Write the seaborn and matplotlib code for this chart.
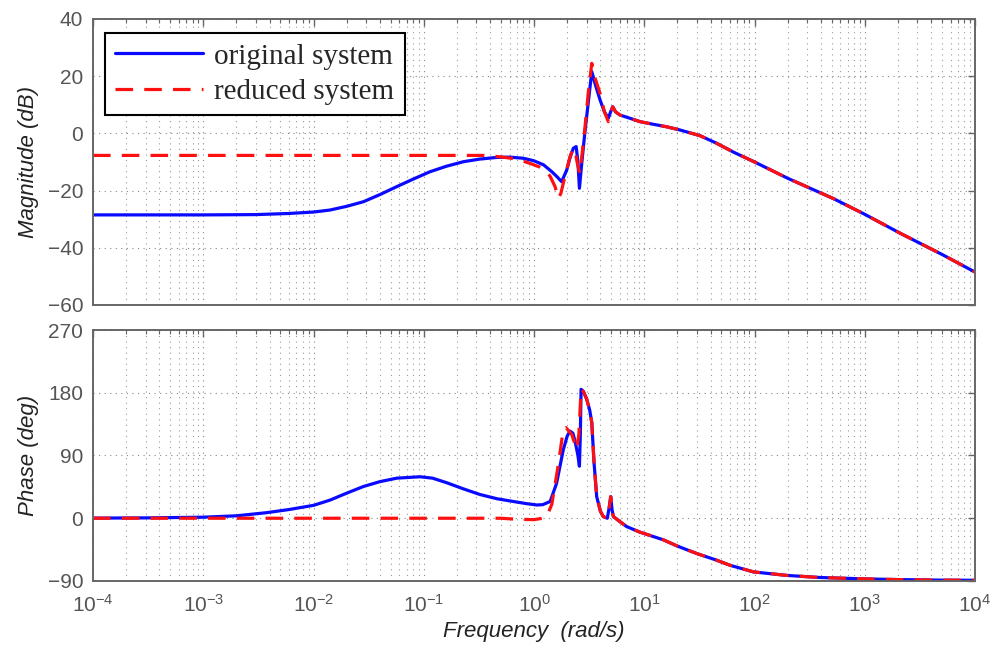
import numpy as np
import pandas as pd
import matplotlib
matplotlib.use("Agg")
import matplotlib.pyplot as plt
import seaborn as sns
from matplotlib.ticker import LogLocator, FixedLocator

# ---------------- data ----------------
mag_orig_f = [1e-4, 1e-3, 3e-3, 6e-3, 0.01, 0.0141, 0.02, 0.0283, 0.04, 0.057, 0.08, 0.114,
              0.16, 0.229, 0.32, 0.46, 0.6, 0.8, 1.0, 1.22, 1.45, 1.62, 1.78, 1.98, 2.12,
              2.27, 2.41, 2.5, 2.58, 2.71, 2.85, 3.0, 3.15, 3.34, 3.6, 3.97, 4.35, 4.72,
              5.0, 5.17, 5.5, 6.03, 7.0, 9.15, 12, 16, 21, 32, 45, 64, 100, 200, 519,
              1000, 2090, 5000, 1e4]
mag_orig_db = [-28.5, -28.5, -28.4, -28.0, -27.5, -26.8, -25.5, -23.9, -21.4, -18.6, -16.0, -13.4,
               -11.5, -9.9, -9.0, -8.4, -8.3, -8.7, -9.6, -11.0, -13.4, -15.2, -16.9, -12.8, -8.5,
               -5.2, -4.6, -10.0, -19.2, -10.4, -2.0, 5.8, 13.0, 21.6, 17.0, 11.7, 7.5, 5.3,
               8.0, 9.3, 7.5, 6.4, 5.6, 4.1, 3.2, 2.3, 1.2, -0.8, -3.4, -6.5, -10.0, -15.7, -22.8,
               -28.3, -34.9, -42.3, -48.5]

mag_red_f = [1e-4, 1e-3, 0.01, 0.1, 0.37, 0.52, 0.7, 0.92, 1.13, 1.26, 1.4, 1.55, 1.66,
             1.75, 1.84, 2.0, 2.12, 2.27, 2.38, 2.47, 2.6, 2.75, 2.9, 3.1, 3.34, 3.6,
             3.97, 4.35, 4.72, 5.0, 5.17, 5.5, 6.03, 7.0, 9.15, 12, 16, 21, 32, 45, 64,
             100, 200, 519, 1000, 2090, 5000, 1e4]
mag_red_db = [-7.7, -7.7, -7.7, -7.7, -7.7, -8.3, -9.0, -10.5, -11.8, -12.8, -15.0, -18.6, -22.7,
              -21.0, -17.5, -12.0, -8.1, -5.2, -7.0, -10.5, -14.0, -6.0, 2.3, 14.0, 24.5, 19.0,
              14.0, 7.5, 4.1, 7.5, 9.3, 7.5, 6.4, 5.6, 4.1, 3.2, 2.3, 1.2, -0.8, -3.4, -6.5,
              -10.0, -15.7, -22.8, -28.3, -34.9, -42.3, -48.5]

ph_orig_f = [1e-4, 3e-4, 1e-3, 2e-3, 3.76e-3, 6e-3, 0.01, 0.0141, 0.02, 0.0283, 0.04, 0.057,
             0.0925, 0.12, 0.161, 0.23, 0.324, 0.46, 0.65, 0.85, 1.06, 1.2, 1.4, 1.6, 1.84,
             2.0, 2.12, 2.25, 2.36, 2.5, 2.58, 2.63, 2.67, 2.8, 3.0, 3.2, 3.34, 3.5, 3.7,
             4.0, 4.25, 4.62, 4.8, 4.96, 5.1, 5.25, 6.03, 6.92, 9.15, 14.9, 20, 29.9, 45,
             60, 98, 196, 392, 1000, 2000, 5000, 1e4]
ph_orig_deg = [0.2, 0.5, 1.5, 3.5, 8.0, 12.5, 18.5, 26.0, 36.0, 45.5, 52.5, 57.5,
               59.5, 57.5, 51.0, 42.0, 34.0, 28.0, 24.0, 21.0, 19.0, 19.5, 24.0, 50.0, 98.0,
               118.0, 125.0, 122.0, 110.0, 90.0, 74.6, 120.0, 185.0, 182.0, 171.0, 155.0, 137.0, 80.0, 31.0,
               10.0, 2.3, 0.0, 15.0, 31.0, 12.0, 2.3, -5.0, -12.0, -20.0, -31.0, -40.0, -50.6, -60.0,
               -67.5, -77.0, -82.0, -85.0, -87.0, -88.0, -88.8, -89.0]

ph_red_f = [1e-4, 1e-3, 0.01, 0.1, 0.5, 0.7, 1.0, 1.2, 1.3, 1.45, 1.66, 1.84, 1.95,
            2.2, 2.43, 2.55, 2.67, 2.8, 3.0, 3.2, 3.34, 3.5, 3.7, 4.0, 4.25, 4.62, 4.8,
            4.96, 5.1, 5.25, 6.03, 6.92, 9.15, 14.9, 20, 29.9, 45, 60, 98, 196, 392,
            1000, 2000, 5000, 1e4]
ph_red_deg = [0.0, 0.0, 0.0, 0.0, 0.0, -1.5, -2.0, 0.0, 2.0, 20.0, 77.0, 127.0, 130.0,
              120.0, 99.0, 120.0, 185.0, 182.0, 171.0, 155.0, 137.0, 80.0, 31.0, 10.0, 2.3, 0.0, 15.0,
              31.0, 12.0, 2.3, -5.0, -12.0, -20.0, -31.0, -40.0, -50.6, -60.0, -67.5, -77.0, -82.0, -85.0,
              -87.0, -88.0, -88.8, -89.0]

series_labels = ["original system", "reduced system"]
mag_ticks = [-60, -40, -20, 0, 20, 40]
ph_ticks = [-90, 0, 90, 180, 270]

# ---------------- style ----------------
sns.set_theme(style="white")
plt.rcParams["font.family"] = ["Liberation Sans", "DejaVu Sans"]
plt.rcParams["mathtext.fontset"] = "custom"
plt.rcParams["mathtext.rm"] = "Liberation Sans"

fig = plt.figure(figsize=(9.92, 6.57), dpi=100)
ax1 = fig.add_axes([0.0938, 0.5358, 0.8891, 0.4353])
ax2 = fig.add_axes([0.0938, 0.1157, 0.8891, 0.3820])

blue = "#0a0aff"
red = "#ff1010"

def draw(ax, fo, vo, fr, vr):
    sns.lineplot(x=fo, y=vo, ax=ax, color=blue, lw=2.3, sort=False, estimator=None,
                 label=series_labels[0], legend=False)
    sns.lineplot(x=fr, y=vr, ax=ax, color=red, lw=2.3, sort=False, estimator=None,
                 label=series_labels[1], legend=False, linestyle=(0, (5.5, 3.5)))

draw(ax1, mag_orig_f, mag_orig_db, mag_red_f, mag_red_db)
draw(ax2, ph_orig_f, ph_orig_deg, ph_red_f, ph_red_deg)

tick_col = "#555555"
for ax, ticks in ((ax1, mag_ticks), (ax2, ph_ticks)):
    ax.set_xscale("log")
    ax.set_xlim(1e-4, 1e4)
    ax.set_ylim(ticks[0], ticks[-1])
    ax.yaxis.set_major_locator(FixedLocator(ticks))
    ax.xaxis.set_major_locator(LogLocator(base=10, numticks=20))
    ax.xaxis.set_minor_locator(LogLocator(base=10, subs=np.arange(2, 10), numticks=20))
    ax.grid(True, which="major", axis="both", linestyle=(0, (1, 4)), color="#888888", lw=0.8)
    ax.grid(True, which="minor", axis="x", linestyle=(0, (1, 4)), color="#999999", lw=0.8)
    for s in ax.spines.values():
        s.set_color("#666666")
        s.set_linewidth(1.4)
        s.set_visible(True)
    ax.tick_params(axis="both", which="both", direction="in", top=True, right=True,
                   colors="#666666", labelcolor=tick_col, labelsize=15)
    ax.tick_params(which="major", length=5, width=1)
    ax.tick_params(which="minor", length=3, width=0.8)
    ax.tick_params(axis="y", pad=7)
    ax.set_xlabel("")

ax1.tick_params(axis="x", labelbottom=False)
ax1.set_ylabel("Magnitude (dB)", fontsize=16, style="italic", color="#222222", labelpad=6)
ax2.set_ylabel("Phase (deg)", fontsize=16, style="italic", color="#222222", labelpad=6)
ax2.set_xlabel("Frequency  (rad/s)", fontsize=16, style="italic", color="#222222", labelpad=4)
ax2.tick_params(axis="x", pad=9)

leg = ax1.legend(loc="upper left", bbox_to_anchor=(0.0136, 0.951), borderaxespad=0,
                 fancybox=False, framealpha=1, edgecolor="black", handlelength=3.0,
                 prop={"family": ["Liberation Serif"], "size": 21}, labelspacing=0.3,
                 borderpad=0.35, handletextpad=0.4)
leg.get_frame().set_linewidth(1.5)

fig.savefig("out.png", dpi=100)
